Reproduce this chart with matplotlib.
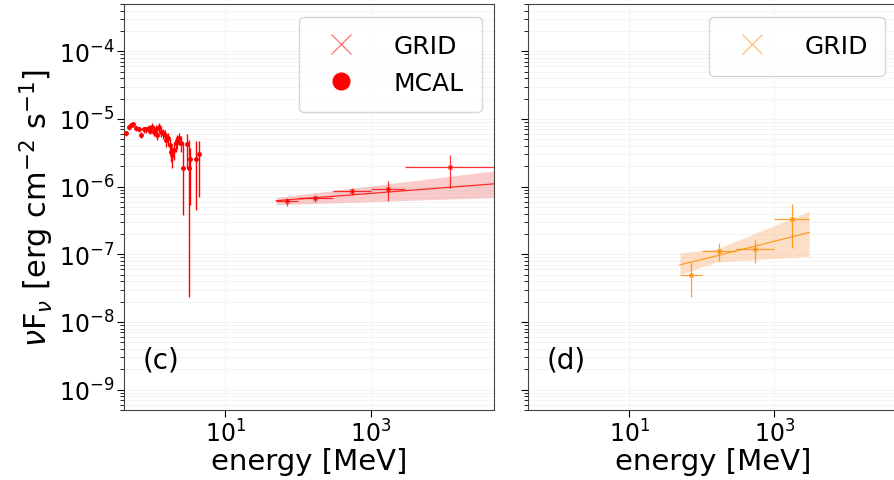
import matplotlib
matplotlib.use("Agg")
import matplotlib.pyplot as plt
from matplotlib.lines import Line2D
from matplotlib.ticker import LogLocator, NullLocator
import numpy as np

# --- panel (c): MCAL spectrum [MeV, erg cm^-2 s^-1]
mcal_e = [0.423, 0.465, 0.507, 0.533, 0.593, 0.644, 0.695, 0.748, 0.814, 0.875,
          0.925, 0.985, 1.035, 1.092, 1.138, 1.202, 1.28, 1.377, 1.485, 1.532,
          1.611, 1.702, 1.795, 1.853, 1.95, 2.056, 2.17, 2.285, 2.41, 2.59,
          2.94, 3.13, 3.27, 3.87, 4.30]
mcal_f = [6.1e-6, 7.5e-6, 8.2e-6, 8.3e-6, 7.3e-6, 7.0e-6, 5.8e-6, 7.0e-6, 7.0e-6, 7.3e-6,
          6.7e-6, 7.7e-6, 6.5e-6, 7.1e-6, 5.8e-6, 7.5e-6, 6.5e-6, 6.1e-6, 5.7e-6, 4.9e-6,
          5.2e-6, 4.1e-6, 3.2e-6, 2.9e-6, 3.5e-6, 4.4e-6, 4.7e-6, 5.2e-6, 4.4e-6, 1.87e-6,
          4.2e-6, 1.87e-6, 2.6e-6, 2.6e-6, 3.0e-6]
mcal_lo = [5.6e-6, 6.9e-6, 7.6e-6, 7.7e-6, 6.7e-6, 6.4e-6, 5.2e-6, 6.3e-6, 6.3e-6, 6.5e-6,
           5.9e-6, 6.8e-6, 5.6e-6, 6.1e-6, 4.9e-6, 6.4e-6, 5.5e-6, 5.1e-6, 4.6e-6, 3.9e-6,
           4.1e-6, 3.1e-6, 2.3e-6, 1.9e-6, 2.5e-6, 3.3e-6, 3.6e-6, 4.1e-6, 3.2e-6, 3.8e-7,
           1.9e-6, 2.3e-8, 5.4e-7, 4.5e-7, 7.1e-7]
mcal_hi = [6.6e-6, 8.1e-6, 8.8e-6, 8.9e-6, 7.9e-6, 7.6e-6, 6.4e-6, 7.7e-6, 7.7e-6, 8.1e-6,
           7.5e-6, 8.6e-6, 7.4e-6, 8.1e-6, 6.7e-6, 8.6e-6, 7.5e-6, 7.1e-6, 6.8e-6, 5.9e-6,
           6.3e-6, 5.1e-6, 4.1e-6, 3.9e-6, 4.5e-6, 5.5e-6, 5.8e-6, 6.3e-6, 5.6e-6, 4.6e-6,
           5.9e-6, 4.9e-6, 3.7e-6, 4.7e-6, 4.7e-6]

# --- panel (c): GRID bins
grid_edges_c = [50, 100, 300, 1000, 3000, 50000]
grid_e_c = [70.7, 173, 548, 1732, 12250]
grid_f_c = [6.05e-7, 6.7e-7, 8.5e-7, 9.3e-7, 1.92e-6]
grid_lo_c = [5.1e-7, 5.9e-7, 7.4e-7, 6.2e-7, 9.7e-7]
grid_hi_c = [6.76e-7, 7.4e-7, 9.7e-7, 1.23e-6, 2.9e-6]

fit_e_c = [50, 50000]
fit_f_c = [6.2e-7, 1.1e-6]
band_lo_c = [5.4e-7, 6.9e-7]
band_hi_c = [6.9e-7, 1.71e-6]

# --- panel (d): GRID bins
grid_edges_d = [50, 100, 300, 1000, 3000]
grid_e_d = [70.7, 173, 548, 1732]
grid_f_d = [4.9e-8, 1.13e-7, 1.2e-7, 3.3e-7]
grid_lo_d = [2.3e-8, 8.05e-8, 7.4e-8, 1.24e-7]
grid_hi_d = [7.7e-8, 1.47e-7, 1.64e-7, 5.5e-7]

fit_e_d = [50, 160, 3000]
fit_f_d = [7.0e-8, 9.5e-8, 2.1e-7]
band_lo_d = [5.0e-8, 7.7e-8, 9.3e-8]
band_hi_d = [1.05e-7, 1.2e-7, 4.3e-7]


def asym(center, lo, hi):
    c = np.asarray(center)
    return [c - np.asarray(lo), np.asarray(hi) - c]


def draw_grid(ax, edges, e, f, lo, hi, fe, ff, blo, bhi, color, bandcolor):
    edges = np.asarray(edges)
    e = np.asarray(e)
    xerr = [e - edges[:-1], edges[1:] - e]
    ax.fill_between(fe, blo, bhi, color=bandcolor, alpha=0.35, lw=0, zorder=1)
    ax.plot(fe, ff, color=color, lw=0.9, alpha=0.8, zorder=2)
    ax.errorbar(e, f, xerr=xerr, yerr=asym(f, lo, hi), fmt='x', ms=3,
                color=color, ecolor=color, elinewidth=0.9, alpha=0.8, zorder=3)


def style(ax, label):
    ax.set_xscale('log')
    ax.set_yscale('log')
    ax.set_xlim(0.4, 5e4)
    ax.set_ylim(5e-10, 5e-4)
    ax.set_xticks([10, 1000])
    ax.xaxis.set_minor_locator(NullLocator())
    ax.yaxis.set_major_locator(LogLocator(base=10, numticks=20))
    ax.yaxis.set_minor_locator(LogLocator(base=10, subs=np.arange(2, 10), numticks=20))
    ax.tick_params(which='major', labelsize=17, length=5, pad=2)
    ax.tick_params(which='minor', length=3)
    ax.grid(True, which='both', color='#f3f3f3', lw=0.6)
    ax.set_axisbelow(True)
    ax.set_xlabel('energy [MeV]', fontsize=21, labelpad=0)
    ax.text(0.05, 0.125, label, transform=ax.transAxes, fontsize=20, va='center')
    for s in ax.spines.values():
        s.set_color('#444444')


fig = plt.figure(figsize=(8.94, 4.81), dpi=100)
ax1 = fig.add_axes([0.1387, 0.1455, 0.4139, 0.8441])
ax2 = fig.add_axes([0.5903, 0.1455, 0.4139, 0.8441], sharey=ax1)

# (c)
draw_grid(ax1, grid_edges_c, grid_e_c, grid_f_c, grid_lo_c, grid_hi_c,
          fit_e_c, fit_f_c, band_lo_c, band_hi_c, 'red', '#f36b6b')
ax1.errorbar(mcal_e, mcal_f, yerr=asym(mcal_f, mcal_lo, mcal_hi), fmt='o', ms=2.5,
             color='red', elinewidth=1.0, zorder=4)
style(ax1, '(c)')
ax1.set_ylabel(r'$\nu$F$_\nu$ [erg cm$^{-2}$ s$^{-1}$]', fontsize=22, labelpad=2)
ax1.legend(handles=[Line2D([], [], ls='none', marker='x', color='red', alpha=0.55, ms=15, mew=0.9),
                    Line2D([], [], ls='none', marker='o', color='red', ms=12)],
           labels=['GRID', 'MCAL'], loc='upper right', fontsize=18,
           handletextpad=1.1, borderpad=0.7, labelspacing=0.5)

# (d)
draw_grid(ax2, grid_edges_d, grid_e_d, grid_f_d, grid_lo_d, grid_hi_d,
          fit_e_d, fit_f_d, band_lo_d, band_hi_d, 'darkorange', '#f8a55c')
style(ax2, '(d)')
ax2.tick_params(labelleft=False)
ax2.legend(handles=[Line2D([], [], ls='none', marker='x', color='darkorange', alpha=0.55, ms=15, mew=0.9)],
           labels=['GRID'], loc='upper right', fontsize=18,
           handletextpad=1.1, borderpad=0.7)

fig.savefig('out.png', dpi=100)
